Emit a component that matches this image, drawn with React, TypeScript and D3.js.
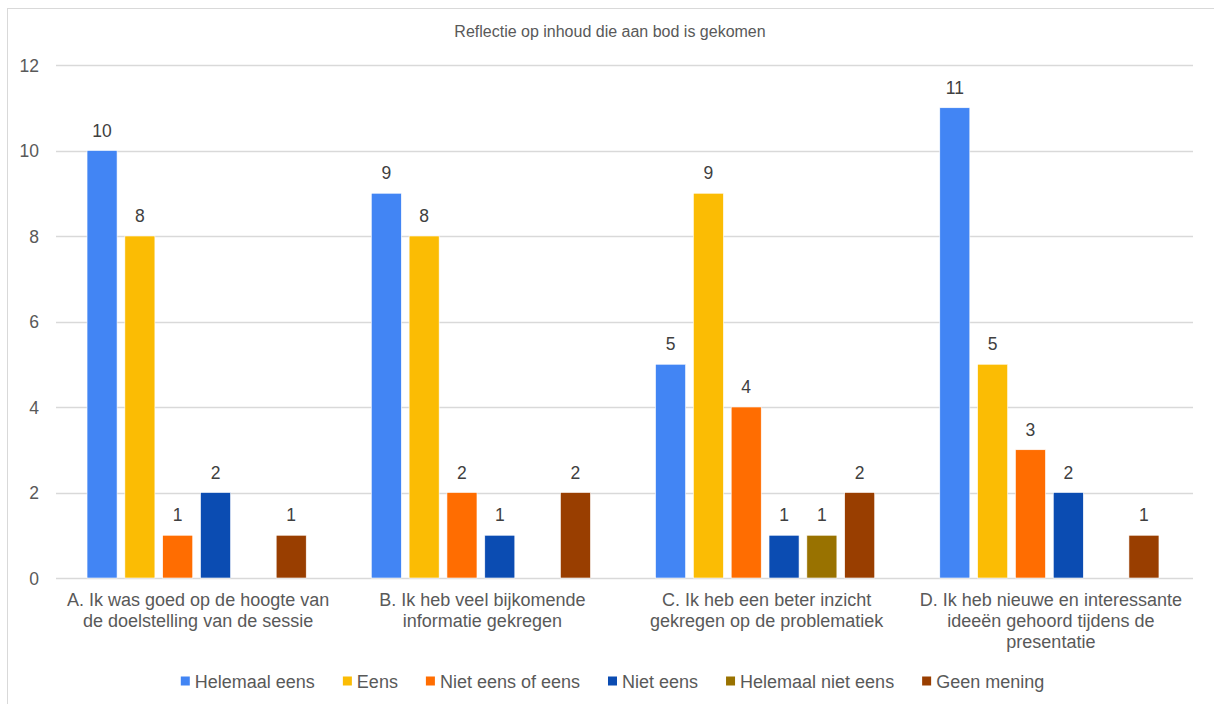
import React, { useEffect, useRef } from "react";
import * as d3 from "d3";

const title = "Reflectie op inhoud die aan bod is gekomen";
const categories = ["A", "B", "C", "D"];
const categoryLines = [
  ["A. Ik was goed op de hoogte van", "de doelstelling van de sessie"],
  ["B. Ik heb veel bijkomende", "informatie gekregen"],
  ["C. Ik heb een beter inzicht", "gekregen op de problematiek"],
  ["D. Ik heb nieuwe en interessante", "ideeën gehoord tijdens de", "presentatie"],
];
const seriesNames = [
  "Helemaal eens",
  "Eens",
  "Niet eens of eens",
  "Niet eens",
  "Helemaal niet eens",
  "Geen mening",
];
const seriesColors = ["#4285F4", "#FBBC04", "#FF6D01", "#0B4CB2", "#997200", "#993E00"];
const helemaalEens = [10, 9, 5, 11];
const eens = [8, 8, 9, 5];
const nietEensOfEens = [1, 2, 4, 3];
const nietEens = [2, 1, 1, 2];
const helemaalNietEens = [0, 0, 1, 0];
const geenMening = [1, 2, 2, 1];
const seriesValues = [helemaalEens, eens, nietEensOfEens, nietEens, helemaalNietEens, geenMening];
const yTicks = [0, 2, 4, 6, 8, 10, 12];

const W = 1214;
const H = 704;
const FONT = "Liberation Sans, Arial, sans-serif";
const TEXT = "#595959";

export default function App() {
  const ref = useRef<SVGSVGElement>(null);
  useEffect(() => {
    const svg = d3.select(ref.current);
    svg.selectAll("*").remove();

    svg.append("rect").attr("x", 7.5).attr("y", 8.5).attr("width", 1230).attr("height", 720)
      .attr("fill", "#fff").attr("stroke", "#d9d9d9").attr("stroke-width", 1);

    const left = 56, right = 1193, top = 65, bottom = 578;
    const y = d3.scaleLinear().domain([0, 12]).range([bottom, top]);
    const x0 = d3.scaleBand<string>().domain(categories).range([left - 1.5, right - 1.5]).paddingInner(0).paddingOuter(0);
    const x1 = d3.scaleBand<string>().domain(seriesNames).range([0, x0.bandwidth()])
      .paddingInner(0.206).paddingOuter(0.86);

    svg.append("text").attr("x", 610).attr("y", 37).attr("text-anchor", "middle")
      .attr("font-family", FONT).attr("font-size", 16).attr("fill", TEXT).text(title);

    const grid = svg.append("g");
    yTicks.forEach((t) => {
      grid.append("line").attr("x1", left).attr("x2", right)
        .attr("y1", Math.round(y(t)) + 0.5).attr("y2", Math.round(y(t)) + 0.5)
        .attr("stroke", "#d9d9d9").attr("stroke-width", 1.3);
      grid.append("text").attr("x", 39).attr("y", y(t) + 6.5).attr("text-anchor", "end")
        .attr("font-family", FONT).attr("font-size", 17.5).attr("fill", TEXT).text(String(t));
    });

    const bars = svg.append("g");
    seriesNames.forEach((s, si) => {
      categories.forEach((c, ci) => {
        const v = seriesValues[si][ci];
        if (!v) return;
        const bx = x0(c)! + x1(s)!;
        bars.append("rect").attr("x", bx).attr("y", y(v)).attr("width", x1.bandwidth())
          .attr("height", y(0) - y(v)).attr("fill", seriesColors[si])
          .attr("stroke", "#ffffff").attr("stroke-width", 0.6);
        bars.append("text").attr("x", bx + x1.bandwidth() / 2).attr("y", y(v) - 14)
          .attr("text-anchor", "middle").attr("font-family", FONT).attr("font-size", 17.5)
          .attr("fill", "#404040").text(String(v));
      });
    });

    categories.forEach((c, ci) => {
      const cxm = left + (right - left) / categories.length * (ci + 0.5);
      const t = svg.append("text").attr("x", cxm).attr("y", 606)
        .attr("text-anchor", "middle").attr("font-family", FONT).attr("font-size", 18)
        .attr("fill", TEXT);
      categoryLines[ci].forEach((line, li) => {
        t.append("tspan").attr("x", cxm).attr("dy", li === 0 ? 0 : 21).text(line);
      });
    });

    const lg = svg.append("g");
    let cx = 0;
    seriesNames.forEach((s, si) => {
      const g = lg.append("g").attr("transform", `translate(${cx},0)`);
      g.append("rect").attr("x", 0).attr("y", 676.5).attr("width", 9).attr("height", 9).attr("fill", seriesColors[si]);
      const tx = g.append("text").attr("x", 14).attr("y", 688).attr("font-family", FONT)
        .attr("font-size", 18).attr("fill", TEXT).text(s);
      const tw = (tx.node() as SVGTextElement).getComputedTextLength();
      cx += 14 + tw + 28;
    });
    const total = cx - 28;
    lg.attr("transform", `translate(${612.5 - total / 2},0)`);
  }, []);

  return (
    <svg ref={ref} width={W} height={H}
      style={{ position: "fixed", left: 0, top: 0, display: "block", background: "#fff" }} />
  );
}
